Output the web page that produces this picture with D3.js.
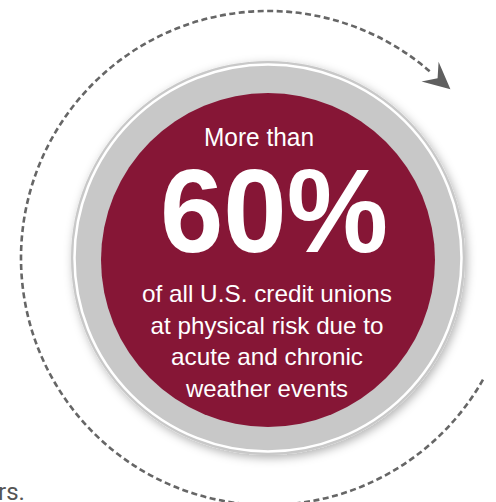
<!DOCTYPE html>
<html lang="en">
<head>
    <meta charset="UTF-8">
    <title>Credit unions at physical risk</title>
    <script src="https://d3js.org/d3.v7.min.js"></script>
    <style>
        body {
            margin: 0;
            background-color: #fff;
        }
        svg {
            display: block;
        }
        .stat-text {
            font-family: "Liberation Sans", Arial, sans-serif;
            fill: #fff;
            text-anchor: middle;
        }
    </style>
</head>
<body>
    <svg id="chart" width="496" height="502"></svg>

    <script>
        // Headline values
        const leadText = ["More than"];
        const statValue = [60];
        const statUnit = ["%"];
        const descriptionLines = [
            "of all U.S. credit unions",
            "at physical risk due to",
            "acute and chronic",
            "weather events"
        ];
        // Fragment of surrounding page text clipped at the corner
        const clippedText = ["rs."];

        const svg = d3.select("#chart");

        // Geometry
        const cx = 268, cy = 258;
        const loopRadius = 247;
        const ringRadius = 197;
        const innerRadius = 167;

        // Drop shadow for the gray ring
        const defs = svg.append("defs");
        const shadow = defs.append("filter")
            .attr("id", "ring-shadow")
            .attr("x", "-20%").attr("y", "-20%")
            .attr("width", "140%").attr("height", "140%");
        shadow.append("feDropShadow")
            .attr("dx", 2)
            .attr("dy", 3)
            .attr("stdDeviation", 5)
            .attr("flood-color", "#000")
            .attr("flood-opacity", 0.3);

        // Dashed loop with arrow (screen angles, clockwise)
        const startAngle = 29.5 * Math.PI / 180;
        const endAngle = 311 * Math.PI / 180;
        const loopPath = d3.path();
        loopPath.arc(cx, cy, loopRadius, startAngle, endAngle, false);

        svg.append("path")
            .attr("d", loopPath.toString())
            .attr("fill", "none")
            .attr("stroke", "#666")
            .attr("stroke-width", 2.6)
            .attr("stroke-dasharray", "6,3.5");

        // Arrow head at the end of the loop
        const endX = cx + loopRadius * Math.cos(endAngle);
        const endY = cy + loopRadius * Math.sin(endAngle);
        const dirAngle = (endAngle * 180 / Math.PI) + 90;
        const arrowLen = 27, arrowHalf = 13, notch = 10;
        svg.append("path")
            .attr("d", `M${arrowLen},0 L0,${-arrowHalf} L${notch},0 L0,${arrowHalf} Z`)
            .attr("transform", `translate(${endX},${endY}) rotate(${dirAngle})`)
            .attr("fill", "#5f5f5f");

        // Gray ring with white edge
        svg.append("circle")
            .attr("cx", cx)
            .attr("cy", cy)
            .attr("r", ringRadius)
            .attr("fill", "#c8c8c8")
            .attr("filter", "url(#ring-shadow)");

        svg.append("circle")
            .attr("cx", cx)
            .attr("cy", cy)
            .attr("r", ringRadius - 3.5)
            .attr("fill", "none")
            .attr("stroke", "#fff")
            .attr("stroke-width", 2.5);

        // Crimson centre
        svg.append("circle")
            .attr("cx", cx)
            .attr("cy", cy + 2)
            .attr("r", innerRadius)
            .attr("fill", "#861636");

        // Texts (condensed face: widths fitted to the reference)
        svg.append("text")
            .attr("class", "stat-text")
            .attr("x", 259)
            .attr("y", 146)
            .attr("font-size", 25)
            .attr("textLength", 110)
            .attr("lengthAdjust", "spacingAndGlyphs")
            .text(leadText[0]);

        svg.append("text")
            .attr("class", "stat-text")
            .attr("x", 274)
            .attr("y", 252)
            .attr("font-size", 118)
            .attr("font-weight", "bold")
            .attr("textLength", 228)
            .attr("lengthAdjust", "spacingAndGlyphs")
            .text(statValue[0] + statUnit[0]);

        const lineY = d3.scaleLinear()
            .domain([0, descriptionLines.length - 1])
            .range([302, 397]);
        const lineWidths = [250, 233, 192, 162];

        svg.selectAll("text.desc")
            .data(descriptionLines)
            .join("text")
            .attr("class", "stat-text desc")
            .attr("x", 267)
            .attr("y", (d, i) => lineY(i))
            .attr("font-size", 24)
            .attr("textLength", (d, i) => lineWidths[i])
            .attr("lengthAdjust", "spacingAndGlyphs")
            .text(d => d);

        svg.append("text")
            .attr("x", -2)
            .attr("y", 500)
            .attr("font-family", "Roboto, 'Liberation Sans', sans-serif")
            .attr("font-size", 24)
            .attr("fill", "#555")
            .text(clippedText[0]);
    </script>
</body>
</html>
